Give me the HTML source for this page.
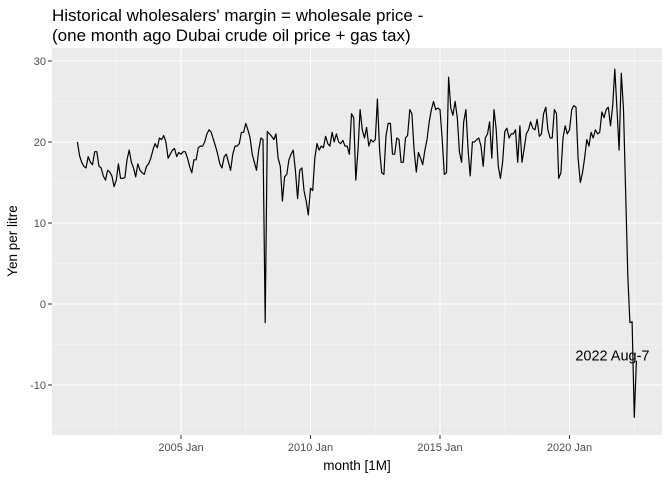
<!DOCTYPE html>
<html><head><meta charset="utf-8"><style>
body{margin:0;background:#fff;font-family:"Liberation Sans",sans-serif}
</style></head><body>
<svg id="c" width="672" height="480" xmlns="http://www.w3.org/2000/svg">
<text x="52" y="21" font-size="17" fill="#000">Historical wholesalers' margin = wholesale price -</text>
<text x="52" y="41" font-size="17" fill="#000">(one month ago Dubai crude oil price + gas tax)</text>
<rect x="52" y="48" width="610" height="387" fill="#ebebeb"/>
<g id="grid"></g>
<g id="ticks"></g>
<text x="357" y="470" font-size="13.5" text-anchor="middle">month [1M]</text>
<text transform="translate(17,241) rotate(-90)" font-size="13.5" text-anchor="middle">Yen per litre</text>
<g id="series"></g>
</svg>
<script>
const yearStart=2001;
const values=[
20,18.3,17.5,17,16.8,18.2,17.5,17.2,18.8,18.8,17,16.8,
15.8,15.3,16.5,16.3,15.8,14.5,15.3,17.3,15.5,15.5,15.6,17.8,
19,17.5,16.8,15.7,17.3,16.5,16.2,16,17,17.3,18,19,
19.8,19.3,20.5,20.3,20.8,20,18,18.5,19,19.2,18.2,18.7,
18.5,18.8,18.8,18,17,16.2,17.8,17.8,19.3,19.5,19.5,20,
21,21.5,21.2,20.3,19.5,18.5,17.3,16.8,18.2,18.5,17.5,16.5,
18.5,19.5,19.5,19.8,21.2,21.2,22.3,21.5,20.5,18.5,17.5,16.5,
19,20.5,20.3,-2.3,21.3,21,20.7,20.3,21,18,17,12.7,
15.7,16,17.8,18.5,19,16.5,13,16.5,16.8,14,12.7,11,
14.3,14,18,19.8,19,19.5,19.3,20.7,19.8,19.5,21.2,20,
21,20,19.8,20.2,19.5,19.5,18.5,23.5,23,15.3,19,24,
21.5,20.5,21.8,19.5,20.3,20,20.3,25.3,19,16.2,16,20.8,
22.3,22.3,18.5,18.5,20.5,20.3,17.5,17.5,20.5,20.8,24,23.5,
19,16.3,18.7,18,17.2,19,20.3,22.5,24,25,24,24.2,
24,20.3,16,16.2,28,24.2,23.3,25,23,18.8,17.5,22.5,
24,19,15.8,20,20,20.3,20.5,19.5,17,20.5,21,22.5,
18,24,21.7,17,15.5,17.5,21.3,21.7,20.5,21,21,21.5,
17.5,22,17.5,19.2,21,21.5,22.5,21.7,21.5,22.8,20.7,21,
23.5,24.3,21.5,20.5,20.5,24,23.5,15.5,16.2,20.5,22,21,
21.5,24,24.5,24.3,18,15,16.2,18,20.3,19.5,21.2,20.5,
21.5,21,21.2,23.7,23,24,24.3,22,24.5,29,24,19,
28.5,24,14,3.5,-2.3,-2.2,-14,-7];
const yTicks=[-10,0,10,20,30];
const xTickYears=[2005,2010,2015,2020];
const xTickLabels=["2005 Jan","2010 Jan","2015 Jan","2020 Jan"];
const annotation="2022 Aug-7";
const NS="http://www.w3.org/2000/svg";
const X=t=>181+(t-2005)*25.9;
const Y=v=>304-v*8.1;
const grid=document.getElementById('grid'),ticks=document.getElementById('ticks'),series=document.getElementById('series');
function mk(tag,attrs,parent){const e=document.createElementNS(NS,tag);for(const k in attrs)e.setAttribute(k,attrs[k]);parent.appendChild(e);return e;}
for(let i=0;i<yTicks.length-1;i++){const m=(yTicks[i]+yTicks[i+1])/2;
 const l=mk('line',{x1:52,x2:662,y1:Y(m),y2:Y(m),stroke:'#f7f7f7','stroke-width':0.6},grid);
 
 }
[-15].forEach(m=>{const l=mk('line',{x1:52,x2:662,y1:Y(m),y2:Y(m),stroke:'#f7f7f7','stroke-width':0.6},grid);
 
 });
[2002.5,2007.5,2012.5,2017.5,2022.5].forEach(t=>{const l=mk('line',{x1:X(t),x2:X(t),y1:48,y2:435,stroke:'#f7f7f7','stroke-width':0.6},grid);
 
 });
yTicks.forEach(v=>{const l=mk('line',{x1:52,x2:662,y1:Y(v),y2:Y(v),stroke:'#fff','stroke-width':1.1},grid);
 
 
 const tk=mk('line',{x1:48,x2:52,y1:Y(v),y2:Y(v),stroke:'#333'},ticks);
 
 
 const t=mk('text',{x:46,y:Y(v)+4,'font-size':11,fill:'#4d4d4d','text-anchor':'end'},ticks);t.textContent=v;
 
 });
xTickYears.forEach((yr,i)=>{const l=mk('line',{x1:X(yr),x2:X(yr),y1:48,y2:435,stroke:'#fff','stroke-width':1.1},grid);
 
 
 const tk=mk('line',{x1:X(yr),x2:X(yr),y1:435,y2:439,stroke:'#333'},ticks);
 
 
 const t=mk('text',{x:X(yr),y:451,'font-size':11,fill:'#4d4d4d','text-anchor':'middle'},ticks);t.textContent=xTickLabels[i];
 
 });
const pts=values.map((v,i)=>X(yearStart+i/12).toFixed(1)+','+Y(v).toFixed(1)).join(' ');
const pl=mk('polyline',{points:pts,fill:'none',stroke:'#000','stroke-width':1.2,'stroke-linejoin':'round'},series);


const last=values.length-1;
const at=mk('text',{x:X(yearStart+last/12)-24,y:Y(values[last])+0,'font-size':14.5,'text-anchor':'middle',fill:'#000'},series);
at.textContent=annotation;


</script>
</body></html>
